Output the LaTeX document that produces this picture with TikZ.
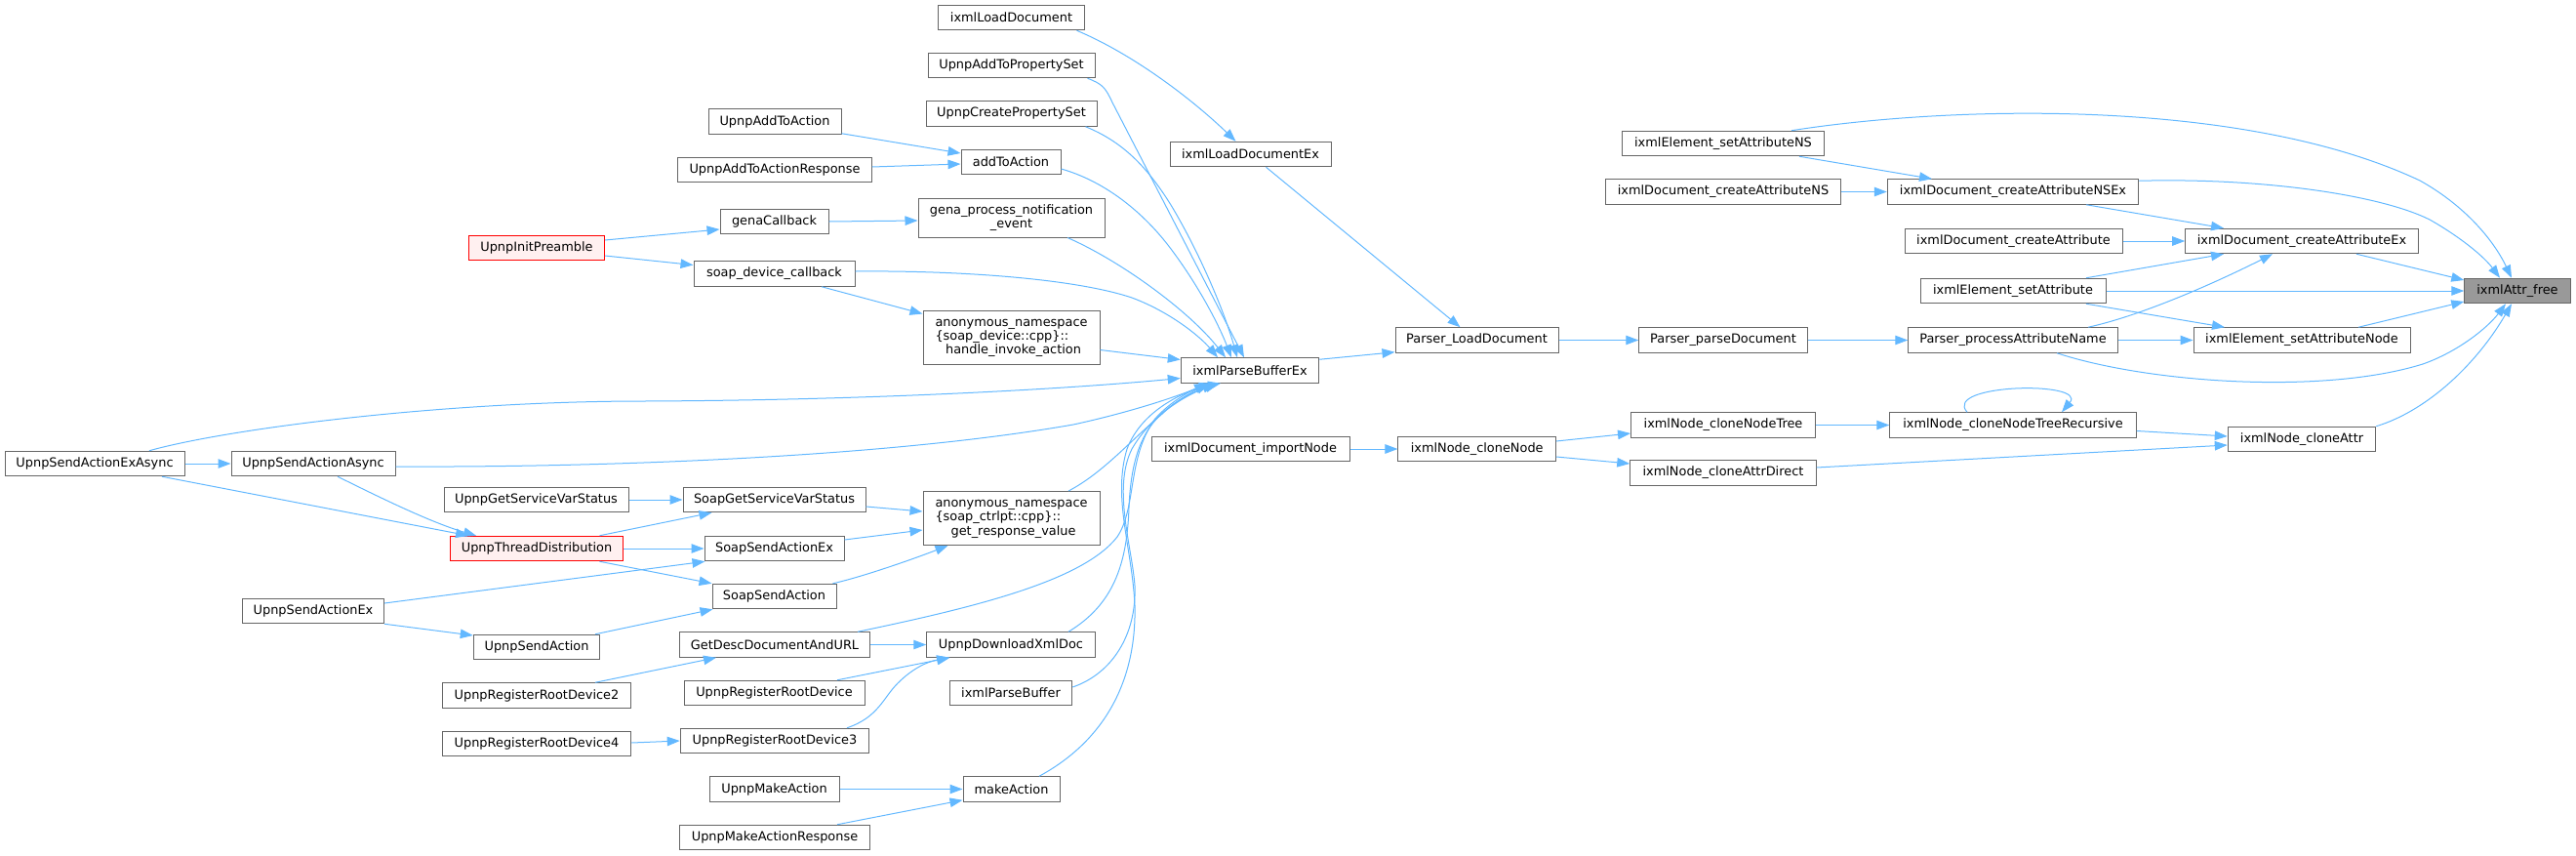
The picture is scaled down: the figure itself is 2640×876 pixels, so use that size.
\documentclass[tikz,border=0pt]{standalone}
\usepackage{fontspec}
\setmainfont{DejaVu Sans}
\usetikzlibrary{arrows.meta,calc}
\definecolor{edgec}{HTML}{63B8FF}
\definecolor{boxc}{HTML}{666666}
\definecolor{redc}{HTML}{FF0000}
\definecolor{redfill}{HTML}{FFF0F0}
\definecolor{freefill}{HTML}{999999}
\newcommand\dvfont{\fontsize{12.9}{14.3}\selectfont}
\begin{document}
\begin{tikzpicture}[x=1pt,y=-1pt,
  box/.style={draw=boxc, line width=1pt, fill=white, inner sep=0pt, minimum height=25.5pt, font=\dvfont, text=black},
  redbox/.style={box, draw=redc, fill=redfill},
  edge/.style={draw=edgec, line width=1pt, -{Triangle[length=13pt,width=9.5pt]}}]
\useasboundingbox (0,0) rectangle (2640,876);
% nodes
\node[box, minimum width=184pt] (sendExAsync) at (97,475) {UpnpSendActionExAsync};
\node[box, minimum width=168pt] (sendAsync) at (321,475) {UpnpSendActionAsync};
\node[box, minimum width=145pt] (sendEx) at (321,626) {UpnpSendActionEx};
\node[redbox, minimum width=139pt] (initPre) at (550,254) {UpnpInitPreamble};
\node[box, minimum width=189pt] (getSVS) at (549.5,512) {UpnpGetServiceVarStatus};
\node[redbox, minimum width=177.5pt] (threadDist) at (550,562) {UpnpThreadDistribution};
\node[box, minimum width=129.5pt] (sendAction) at (550,663) {UpnpSendAction};
\node[box, minimum width=193.5pt] (reg2) at (550,712.5) {UpnpRegisterRootDevice2};
\node[box, minimum width=193.5pt] (reg4) at (550,762) {UpnpRegisterRootDevice4};
\node[box, minimum width=136pt] (addToActU) at (794,124.5) {UpnpAddToAction};
\node[box, minimum width=198.5pt] (addToActResp) at (794,174) {UpnpAddToActionResponse};
\node[box, minimum width=111pt] (genaCb) at (793.5,227) {genaCallback};
\node[box, minimum width=165pt] (soapDevCb) at (793.5,280.5) {soap\_device\_callback};
\node[box, minimum width=187pt] (soapGSVS) at (793.5,512) {SoapGetServiceVarStatus};
\node[box, minimum width=143pt] (soapSendEx) at (793.5,562) {SoapSendActionEx};
\node[box, minimum width=127pt] (soapSend) at (793.5,611) {SoapSendAction};
\node[box, minimum width=194.5pt] (getDesc) at (794,660.5) {GetDescDocumentAndURL};
\node[box, minimum width=185pt] (regRoot) at (793.5,710) {UpnpRegisterRootDevice};
\node[box, minimum width=193.5pt] (reg3) at (794,759) {UpnpRegisterRootDevice3};
\node[box, minimum width=133pt] (makeActU) at (793.5,808.5) {UpnpMakeAction};
\node[box, minimum width=194.5pt] (makeActResp) at (794,858) {UpnpMakeActionResponse};
\node[box, minimum width=149.5pt] (loadDoc) at (1036.5,18) {ixmlLoadDocument};
\node[box, minimum width=171pt] (addPropSet) at (1036.5,67) {UpnpAddToPropertySet};
\node[box, minimum width=175pt] (createPropSet) at (1036.5,116.5) {UpnpCreatePropertySet};
\node[box, minimum width=102pt] (addToAction) at (1036,166) {addToAction};
\node[box, minimum width=191pt, minimum height=40pt, align=center] (gena) at (1036.5,223) {gena\_process\_notification\\\_event};
\node[box, minimum width=181pt, minimum height=55pt] (anonDev) at (1036.5,345.5) {\begin{tabular}{@{}l@{}}anonymous\_namespace\\ \{soap\_device::cpp\}::\\ \multicolumn{1}{@{}c@{}}{\ handle\_invoke\_action}\end{tabular}};
\node[box, minimum width=181pt, minimum height=55pt] (anonCtrl) at (1036.5,531) {\begin{tabular}{@{}l@{}}anonymous\_namespace\\ \{soap\_ctrlpt::cpp\}::\\ \multicolumn{1}{@{}c@{}}{\ get\_response\_value}\end{tabular}};
\node[box, minimum width=172.5pt] (download) at (1036,660.5) {UpnpDownloadXmlDoc};
\node[box, minimum width=125.5pt] (parseBuffer) at (1036,710) {ixmlParseBuffer};
\node[box, minimum width=99pt] (makeAction) at (1036.5,808.5) {makeAction};
\node[box, minimum width=165pt] (loadDocEx) at (1281.5,158) {ixmlLoadDocumentEx};
\node[box, minimum width=141.5pt] (pbe) at (1281,379.5) {ixmlParseBufferEx};
\node[box, minimum width=203pt] (importNode) at (1281.5,460) {ixmlDocument\_importNode};
\node[box, minimum width=167pt] (parserLoad) at (1513.5,348.5) {Parser\_LoadDocument};
\node[box, minimum width=161.5pt] (cloneNode) at (1513.7,460) {ixmlNode\_cloneNode};
\node[box, minimum width=206.5pt] (setAttrNS) at (1766,147) {ixmlElement\_setAttributeNS};
\node[box, minimum width=241.5pt] (createAttrNS) at (1766,196.5) {ixmlDocument\_createAttributeNS};
\node[box, minimum width=172.5pt] (parseDoc) at (1766,348.5) {Parser\_parseDocument};
\node[box, minimum width=189pt] (cloneNodeTree) at (1766,435.5) {ixmlNode\_cloneNodeTree};
\node[box, minimum width=190.5pt] (cloneAttrDirect) at (1766,484.5) {ixmlNode\_cloneAttrDirect};
\node[box, minimum width=257.5pt] (createNSEx) at (2063,196.5) {ixmlDocument\_createAttributeNSEx};
\node[box, minimum width=223pt] (createAttr) at (2063.5,247) {ixmlDocument\_createAttribute};
\node[box, minimum width=190pt] (setAttr) at (2063,298) {ixmlElement\_setAttribute};
\node[box, minimum width=214.5pt] (processName) at (2063,348.5) {Parser\_processAttributeName};
\node[box, minimum width=252.5pt] (cloneRec) at (2063,435.5) {ixmlNode\_cloneNodeTreeRecursive};
\node[box, minimum width=238.6pt] (createEx) at (2359,247) {ixmlDocument\_createAttributeEx};
\node[box, minimum width=222pt] (setAttrNode) at (2359,348.5) {ixmlElement\_setAttributeNode};
\node[box, minimum width=151.5pt] (cloneAttr) at (2359,450) {ixmlNode\_cloneAttr};
\node[box, minimum width=108.5pt, fill=freefill] (free) at (2580,298) {ixmlAttr\_free};
% edges into ixmlAttr_free
\draw[edge] ($(setAttrNS.north)+(70,0)$) .. controls (2000,108) and (2300,100) .. (2480,185) .. controls (2525,210) and (2555,245) .. ($(free.north)+(-6,0)$);
\draw[edge] ($(createNSEx.north east)+(0,2)$) .. controls (2320,182) and (2440,200) .. (2490,225) .. controls (2520,242) and (2545,262) .. ($(free.north)+(-18,0)$);
\draw[edge] ($(createEx.south)+(56,0)$) -- ($(free.west)+(0,-11)$);
\draw[edge] (setAttr.east) -- (free.west);
\draw[edge] ($(setAttrNode.north)+(58,0)$) -- ($(free.west)+(0,11)$);
\draw[edge] ($(processName.south)+(45,0)$) .. controls (2200,392) and (2380,405) .. (2483,373) .. controls (2520,360) and (2550,335) .. ($(free.south)+(-12,0)$);
\draw[edge] (cloneAttr.north east) .. controls (2490,420) and (2540,370) .. ($(free.south)+(-6,0)$);
% into createAttributeEx
\draw[edge] ($(createNSEx.south)+(75,0)$) -- ($(createEx.north)+(-80,0)$);
\draw[edge] (createAttr.east) -- (createEx.west);
\draw[edge] ($(setAttr.north)+(75,0)$) -- ($(createEx.south)+(-80,0)$);
\draw[edge] ($(processName.north)+(77,0)$) .. controls (2200,322) and (2280,285) .. ($(createEx.south)+(-30,0)$);
% into createAttributeNSEx
\draw[edge] ($(setAttrNS.south)+(78,0)$) -- ($(createNSEx.north)+(-83,0)$);
\draw[edge] (createAttrNS.east) -- (createNSEx.west);
% into setAttributeNode
\draw[edge] ($(setAttr.south)+(75,0)$) -- ($(setAttrNode.north)+(-79,0)$);
\draw[edge] (processName.east) -- (setAttrNode.west);
% parser chain
\draw[edge] (parseDoc.east) -- (processName.west);
\draw[edge] (parserLoad.east) -- (parseDoc.west);
\draw[edge] ($(loadDocEx.south)+(16,0)$) -- ($(parserLoad.north)+(-17,0)$);
\draw[edge] ($(pbe.north east)+(0,2)$) -- ($(parserLoad.south west)+(0,-1)$);
\draw[edge] ($(loadDoc.south)+(67,0)$) .. controls (1160,55) and (1220,100) .. ($(loadDocEx.north)+(-15,0)$);
% clone chain
\draw[edge] ($(cloneRec.east)+(0,6)$) -- ($(cloneAttr.west)+(0,-3)$);
\draw[edge] ($(cloneAttrDirect.east)+(0,-5.5)$) -- ($(cloneAttr.west)+(0,6)$);
\draw[edge] (cloneNodeTree.east) -- (cloneRec.west);
\draw[edge] ($(cloneRec.north)+(-47,0)$) .. controls (1990,393) and (2140,390) .. ($(cloneRec.north)+(50,0)$);
\draw[edge] ($(cloneNode.east)+(0,-8)$) -- ($(cloneNodeTree.west)+(0,8.5)$);
\draw[edge] ($(cloneNode.east)+(0,8)$) -- ($(cloneAttrDirect.west)+(0,-9.5)$);
\draw[edge] (importNode.east) -- (cloneNode.west);
% into ixmlParseBufferEx
\draw[edge] ($(addPropSet.south east)+(-8,0)$) .. controls (1130,86) and (1133,90) .. (1140,105) -- ($(pbe.north)+(-6,0)$);
\draw[edge] ($(createPropSet.south)+(76,0)$) .. controls (1150,145) and (1175,170) .. (1200,210) .. controls (1230,260) and (1255,320) .. ($(pbe.north)+(-13,0)$);
\draw[edge] ($(addToAction.east)+(0,7)$) .. controls (1130,185) and (1170,215) .. (1200,255) .. controls (1230,295) and (1250,335) .. ($(pbe.north)+(-19,0)$);
\draw[edge] ($(gena.south)+(57.5,0)$) .. controls (1150,268) and (1220,320) .. ($(pbe.north)+(-25,0)$);
\draw[edge] ($(soapDevCb.east)+(0,-2.5)$) .. controls (980,277) and (1100,285) .. (1160,305) .. controls (1200,320) and (1230,345) .. ($(pbe.north)+(-33,0)$);
\draw[edge] ($(anonDev.east)+(0,13)$) -- ($(pbe.west)+(0,-11)$);
\draw[edge] ($(sendExAsync.north)+(56,0)$) .. controls (230,440) and (450,411) .. (660,411) .. controls (900,410) and (1100,398) .. ($(pbe.west)+(0,8)$);
\draw[edge] ($(sendAsync.east)+(0,3)$) .. controls (600,479) and (900,470) .. (1100,435) .. controls (1160,422) and (1210,405) .. ($(pbe.south)+(-44,0)$);
\draw[edge] ($(anonCtrl.north)+(58.5,0)$) .. controls (1130,485) and (1160,450) .. (1190,425) .. controls (1205,410) and (1225,400) .. ($(pbe.south)+(-43,0)$);
\draw[edge] ($(getDesc.north)+(85,0)$) .. controls (1000,622) and (1110,595) .. (1145,550) .. controls (1165,520) and (1155,470) .. (1183,430) .. controls (1200,410) and (1225,398) .. ($(pbe.south)+(-39,0)$);
\draw[edge] ($(download.north)+(59,0)$) .. controls (1140,620) and (1155,580) .. (1157,520) .. controls (1160,450) and (1180,420) .. ($(pbe.south)+(-36,0)$);
\draw[edge] ($(parseBuffer.east)+(0,-6)$) .. controls (1140,690) and (1165,650) .. (1163,600) .. controls (1160,560) and (1140,500) .. (1160,460) .. controls (1180,425) and (1215,405) .. ($(pbe.south)+(-33,0)$);
\draw[edge] ($(makeAction.north)+(28.5,0)$) .. controls (1130,760) and (1165,700) .. (1163,620) .. controls (1160,560) and (1140,510) .. (1155,460) .. controls (1170,420) and (1215,400) .. ($(pbe.south)+(-30,0)$);
% left part
\draw[edge] ($(addToActU.south east)+(0,-1)$) -- ($(addToAction.west)+(0,-9)$);
\draw[edge] ($(addToActResp.east)+(0,-3)$) -- ($(addToAction.west)+(0,2)$);
\draw[edge] (genaCb.east) -- ($(gena.west)+(0,3)$);
\draw[edge] ($(initPre.east)+(0,-8)$) -- ($(genaCb.west)+(0,8)$);
\draw[edge] ($(initPre.east)+(0,8)$) -- ($(soapDevCb.west)+(0,-9)$);
\draw[edge] ($(soapDevCb.south)+(48.5,0)$) -- ($(anonDev.north west)+(0,4)$);
\draw[edge] (sendExAsync.east) -- (sendAsync.west);
\draw[edge] ($(sendExAsync.south)+(69,0)$) -- ($(threadDist.north)+(-70,0)$);
\draw[edge] ($(sendAsync.south)+(25,0)$) .. controls (380,505) and (440,535) .. ($(threadDist.north)+(-62,0)$);
\draw[edge] (getSVS.east) -- (soapGSVS.west);
\draw[edge] ($(threadDist.north)+(64.5,0)$) -- ($(soapGSVS.south)+(-64,0)$);
\draw[edge] (threadDist.east) -- (soapSendEx.west);
\draw[edge] ($(threadDist.south)+(64.5,0)$) -- (soapSend.north west);
\draw[edge] ($(sendEx.east)+(0,-8)$) -- ($(soapSendEx.south west)+(1,0)$);
\draw[edge] (sendEx.south east) -- ($(sendAction.west)+(0,-12)$);
\draw[edge] ($(sendAction.north)+(60,0)$) -- ($(soapSend.south west)+(1,0)$);
\draw[edge] ($(soapGSVS.east)+(0,7)$) -- ($(anonCtrl.west)+(0,-7)$);
\draw[edge] ($(soapSendEx.east)+(0,-9)$) -- ($(anonCtrl.west)+(0,12)$);
\draw[edge] ($(soapSend.north)+(60,0)$) .. controls (880,592) and (930,575) .. ($(anonCtrl.south)+(-65,0)$);
\draw[edge] ($(reg2.north)+(60,0)$) -- ($(getDesc.south)+(-60,0)$);
\draw[edge] (getDesc.east) -- (download.west);
\draw[edge] ($(regRoot.north)+(64.5,0)$) -- ($(download.south)+(-62.5,0)$);
\draw[edge] ($(reg3.north)+(74,0)$) .. controls (900,735) and (905,715) .. (920,700) .. controls (935,685) and (950,678) .. ($(download.south)+(-63,0)$);
\draw[edge] ($(reg4.east)+(0,-1)$) -- (reg3.west);
\draw[edge] (makeActU.east) -- (makeAction.west);
\draw[edge] ($(makeActResp.north)+(64,0)$) -- ($(makeAction.south west)+(0,-2)$);
\end{tikzpicture}
\end{document}
